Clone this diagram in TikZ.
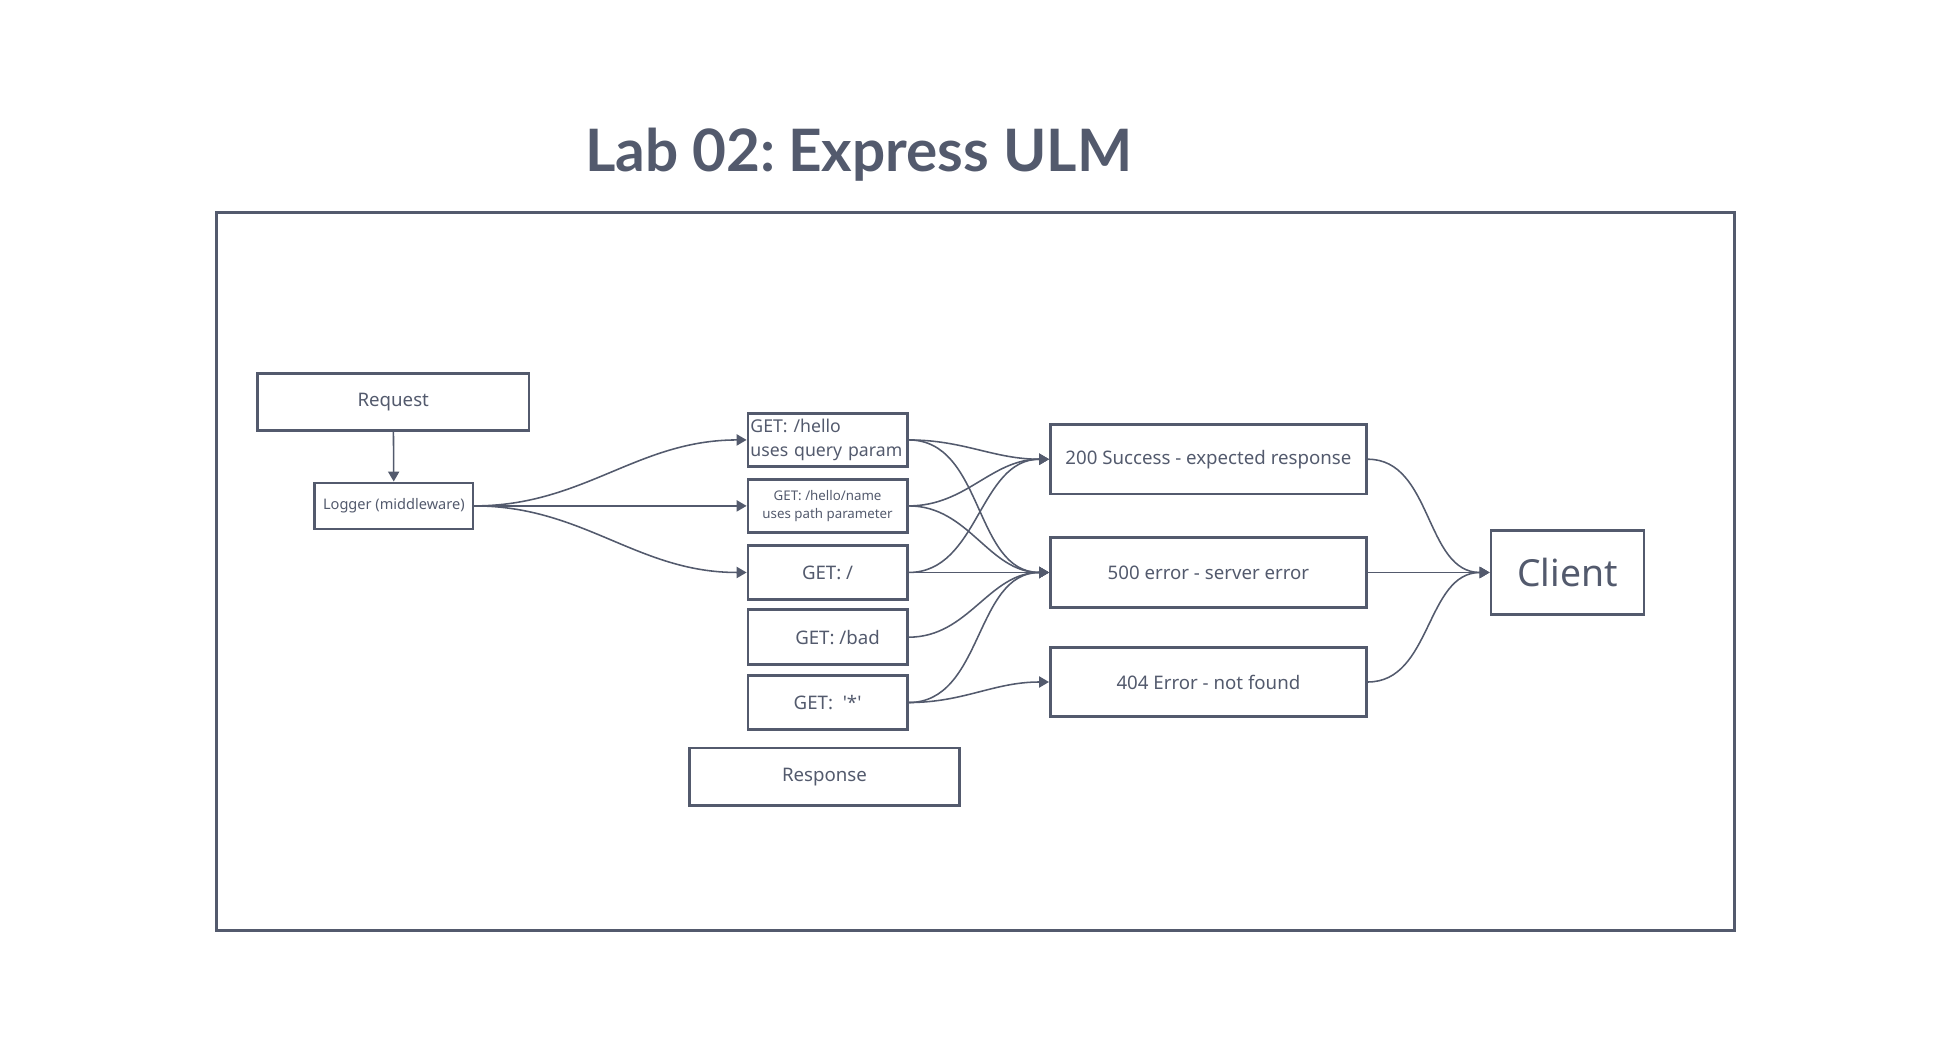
\documentclass[tikz,border=0pt]{standalone}
\usepackage{fontspec}
\setmainfont{Noto Sans}
\newfontfamily\titlefont{Lato}
\usetikzlibrary{arrows.meta}
\definecolor{slate}{HTML}{535A6D}
\begin{document}
\begin{tikzpicture}[x=1pt,y=1pt,
    box/.style={draw=slate,line width=2.2pt,text=slate,inner sep=0pt,font=\fontsize{15}{18}\selectfont},
    conn/.style={draw=slate,line width=1.25pt,-{Triangle[length=8pt,width=9pt]}}]
    \useasboundingbox (0,0) rectangle (1567.7,-841.3);
    \node [text=slate,font=\fontsize{47}{56}\titlefont\bfseries] (title) at (690,-124) {Lab 02:\kern-1.5pt\ Express ULM};
    \draw [slate,line width=2.4pt] (174,-171) rectangle (1394,-748);
    \node [box,minimum width=218pt,minimum height=46pt] (req) at (316,-323) {Request};
    \node [box,minimum width=127pt,minimum height=37pt,font=\fontsize{11.7}{14}\selectfont] (log) at (316.5,-406.5) {Logger (middleware)};
    \node [box,minimum width=128pt,minimum height=43pt,text width=124pt,inner xsep=2pt,align=left,font=\fontsize{14.2}{19}\selectfont] (hello) at (665,-353.5) {GET: /hello\\uses query param};
    \node [box,minimum width=128pt,minimum height=43pt,align=center,font=\fontsize{10.7}{14}\selectfont] (name) at (665,-406.5) {GET: /hello/name\\uses path parameter};
    \node [box,minimum width=128pt,minimum height=43pt] (root) at (665,-460) {GET: /};
    \node [box,minimum width=128pt,minimum height=44pt] (bad) at (665,-512) {\hspace{16pt}GET: /bad};
    \node [box,minimum width=128pt,minimum height=43pt] (star) at (665,-564.5) {GET:\ \ \textquotesingle*\textquotesingle};
    \node [box,minimum width=217pt,minimum height=46pt] (resp) at (662.5,-624) {Response};
    \node [box,minimum width=254pt,minimum height=56pt] (ok) at (971,-369) {200 Success - expected response};
    \node [box,minimum width=254pt,minimum height=56pt] (err) at (971,-460) {500 error - server error\hspace{14pt}};
    \node [box,minimum width=254pt,minimum height=56pt] (nf) at (971,-548) {404 Error - not found};
    \node [box,minimum width=123pt,minimum height=68pt,font=\fontsize{30}{36}\selectfont] (client) at (1259.5,-460) {Client};
    \draw [conn] (req) -- (log);
    \draw [conn] (log.east) to[out=0,in=180] (hello.west);
    \draw [conn] (log.east) -- (name.west);
    \draw [conn] (log.east) to[out=0,in=180] (root.west);
    \draw [conn] (hello.east) to[out=0,in=180] (ok.west);
    \draw [conn] (hello.east) to[out=0,in=180] (err.west);
    \draw [conn] (name.east) to[out=0,in=180] (ok.west);
    \draw [conn] (name.east) to[out=0,in=180] (err.west);
    \draw [conn] (root.east) to[out=0,in=180] (ok.west);
    \draw [conn] (root.east) -- (err.west);
    \draw [conn] (bad.east) to[out=0,in=180] (err.west);
    \draw [conn] (star.east) to[out=0,in=180] (err.west);
    \draw [conn] (star.east) to[out=0,in=180] (nf.west);
    \draw [conn] (ok.east) to[out=0,in=180] (client.west);
    \draw [conn] (err.east) -- (client.west);
    \draw [conn] (nf.east) to[out=0,in=180] (client.west);
\end{tikzpicture}
\end{document}
